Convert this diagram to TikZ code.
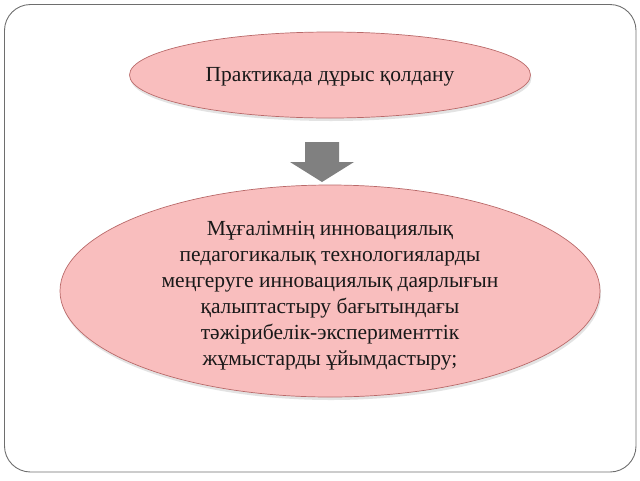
\documentclass[tikz,border=0pt]{standalone}
\usepackage{fontspec}
\setmainfont{Liberation Serif}
\usetikzlibrary{shapes.geometric,shadows}
\definecolor{ellfill}{RGB}{249,190,190}
\definecolor{elldraw}{RGB}{185,105,105}
\definecolor{arrowgray}{RGB}{128,128,128}
\definecolor{framegray}{RGB}{110,110,110}
\tikzset{
  pinkell/.style={ellipse, fill=ellfill, draw=elldraw, line width=0.7pt,
    inner sep=0pt, align=center,
    drop shadow={shadow xshift=1pt, shadow yshift=-3pt, opacity=0.18, fill=black!60}},
  elltext/.style={align=center, text=black!90, inner sep=0pt}
}
\begin{document}
\begin{tikzpicture}[x=1pt,y=-1pt]
\useasboundingbox (0,0) rectangle (640,480);
\draw[framegray, line width=0.9pt, rounded corners=26pt] (4.5,4.5) rectangle (636,472);
\node[pinkell, minimum width=401pt, minimum height=86pt] (top) at (330,75) {};
\node[elltext, font=\fontsize{21.5}{26}\selectfont] (toptext) at (330,77) {Практикада дұрыс қолдану};
\fill[arrowgray] (305,142) -- (339,142) -- (339,162) -- (354,162) -- (322,182) -- (290,162) -- (305,162) -- cycle;
\node[pinkell, minimum width=540pt, minimum height=212pt] (big) at (330,291) {};
\node[elltext, font=\fontsize{21.5}{26}\selectfont] (bigtext) at (330,296) {Мұғалімнің инновациялық\\педагогикалық технологияларды\\меңгеруге инновациялық даярлығын\\қалыптастыру бағытындағы\\тәжірибелік-эксперименттік\\жұмыстарды ұйымдастыру;};
\end{tikzpicture}
\end{document}
